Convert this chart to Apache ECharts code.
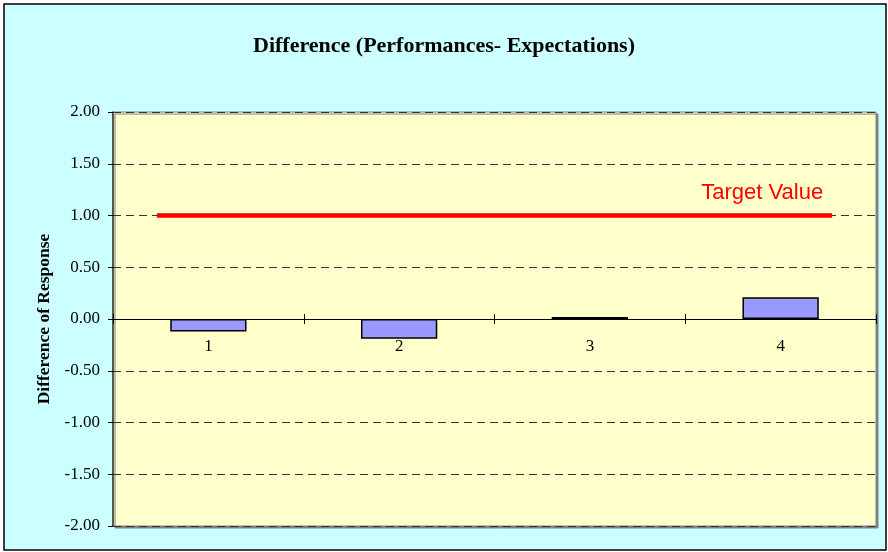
<!DOCTYPE html>
<html>
<head>
<meta charset="utf-8">
<script src="https://cdn.jsdelivr.net/npm/echarts@6/dist/echarts.min.js"></script>
<style>html,body{margin:0;padding:0;background:#fff;}#c{width:888px;height:552px;}</style>
</head>
<body>
<div id="c"></div>
<script>
const categories = ['1', '2', '3', '4'];
const differenceValues = [-0.12, -0.19, 0.02, 0.21];
const targetValue = 1.0;
const targetLineX = [0.73, 4.27];
const yTicks = { min: -2, max: 2, interval: 0.5 };
const titleText = 'Difference (Performances- Expectations)';
const yAxisName = 'Difference of Response';
const targetLabel = 'Target Value';

const serif = "'Liberation Serif', 'Times New Roman', serif";
const sans = "'Liberation Sans', Arial, sans-serif";

const GRID = { left: 113, top: 112, right: 12, bottom: 26 };
const halfH = (552 - GRID.top - GRID.bottom) / 2;

const chart = echarts.init(document.getElementById('c'), null, { renderer: 'canvas' });
chart.setOption({
  animation: false,
  backgroundColor: '#ffffff',
  graphic: { elements: [{
    type: 'rect', z: -100, silent: true,
    shape: { x: 4, y: 4, width: 882, height: 546 },
    style: { fill: '#CCFFFF', stroke: '#000000', lineWidth: 1.5 }
  }]},
  title: {
    text: titleText, left: 'center', top: 30,
    textStyle: { fontFamily: serif, fontWeight: 'bold', fontSize: 22, color: '#000' }
  },
  grid: {
    left: GRID.left, top: GRID.top, right: GRID.right, bottom: GRID.bottom,
    containLabel: false, outerBoundsMode: 'none',
    show: true, backgroundColor: '#FFFFCC', borderColor: '#808080', borderWidth: 1,
    shadowColor: '#808080', shadowOffsetX: 2, shadowOffsetY: 2, shadowBlur: 0
  },
  xAxis: [
    {
      type: 'category', data: categories, position: 'bottom', offset: -halfH,
      axisLine: { onZero: false, lineStyle: { color: '#000', width: 1 } },
      axisTick: { show: true, length: 5, lineStyle: { color: '#000' } },
      axisLabel: { margin: 19, fontFamily: serif, fontSize: 17, color: '#000' },
      splitLine: { show: false }
    },
    {
      type: 'category', data: categories, position: 'top', offset: -halfH,
      axisLine: { onZero: false, lineStyle: { color: '#000', width: 1 } },
      axisTick: { show: true, length: 5, lineStyle: { color: '#000' } },
      axisLabel: { show: false },
      splitLine: { show: false }
    },
    {
      type: 'value', min: 0.5, max: 4.5, show: false
    }
  ],
  yAxis: {
    type: 'value', min: yTicks.min, max: yTicks.max, interval: yTicks.interval,
    name: yAxisName, nameLocation: 'middle', nameRotate: 90, nameGap: 52,
    nameTextStyle: { fontFamily: serif, fontWeight: 'bold', fontSize: 17.5, color: '#000' },
    axisLine: { show: true, onZero: false, lineStyle: { color: '#333', width: 1.5 } },
    axisTick: { show: true, length: 5, lineStyle: { color: '#000' } },
    axisLabel: { margin: 13, fontFamily: serif, fontSize: 17, color: '#000',
      formatter: v => v.toFixed(2) },
    splitLine: { show: true, lineStyle: { color: '#333', width: 1, type: [8, 5] } }
  },
  series: [
    {
      type: 'bar', xAxisIndex: 0, data: differenceValues, barWidth: '40%',
      itemStyle: { color: '#9999FF', borderColor: '#000', borderWidth: 1.5 }
    },
    {
      type: 'line', xAxisIndex: 2,
      data: [
        { value: [targetLineX[0], targetValue] },
        { value: [targetLineX[1], targetValue],
          label: { show: true, formatter: targetLabel, position: 'top', distance: 0,
            align: 'right', verticalAlign: 'bottom', offset: [-9, -11],
            fontFamily: sans, fontSize: 22, color: '#FF0000' } }
      ],
      symbol: 'circle', symbolSize: 1, showSymbol: true,
      itemStyle: { color: '#FF0000' },
      lineStyle: { color: '#FF0000', width: 4.5 },
      z: 3
    }
  ]
});
</script>
</body>
</html>
